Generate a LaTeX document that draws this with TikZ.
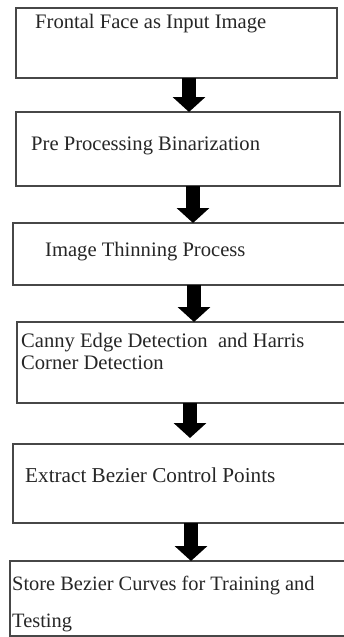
\documentclass[tikz,border=0pt]{standalone}
\usepackage{fontspec}
\setmainfont{Liberation Serif}
\usetikzlibrary{arrows.meta}
\begin{document}
\begin{tikzpicture}[x=1pt,y=-1pt,
        box/.style={draw=black!72, line width=1.2pt, rectangle, inner sep=0pt, outer sep=0pt},
        txt/.style={anchor=base west, inner sep=0pt, text=black!85, align=left, font=\fontsize{20.6}{22}\selectfont},
        fatarrow/.style={line width=14pt, -{Triangle[width=32pt,length=15pt]}}]
        \useasboundingbox (0,0) rectangle (344,637);

        \node[box, minimum width=321pt, minimum height=70pt] (b1) at (176.5,43) {};
        \node[box, minimum width=324pt, minimum height=74pt] (b2) at (178,149) {};
        \node[box, minimum width=332pt, minimum height=62pt] (b3) at (179,254) {};
        \node[box, minimum width=328pt, minimum height=81pt] (b4) at (181,362.5) {};
        \node[box, minimum width=332pt, minimum height=79pt] (b5) at (179,483.5) {};
        \node[box, minimum width=335pt, minimum height=75pt] (b6) at (177.5,598.5) {};

        \node[txt] (t1) at (35,28) {Frontal Face as Input Image};
        \node[txt] (t2) at (31,150) {Pre Processing Binarization};
        \node[txt] (t3) at (45,256) {Image Thinning Process};
        \node[txt] (t4) at (21,369) {Canny Edge Detection~ and Harris\\Corner Detection};
        \node[txt, font=\fontsize{21.2}{22}\selectfont] (t5) at (25,482) {Extract Bezier Control Points};
        \node[txt, font=\fontsize{20.4}{37}\selectfont] (t6) at (12,627) {Store Bezier Curves for Training and\\Testing};

        \path[draw,fatarrow] ([xshift=12.5pt]b1.south) -- ([xshift=11pt]b2.north);
        \path[draw,fatarrow] ([xshift=15pt]b2.south) -- ([xshift=14pt]b3.north);
        \path[draw,fatarrow] ([xshift=15pt]b3.south) -- ([xshift=13pt]b4.north);
        \path[draw,fatarrow,shorten >=6pt] ([xshift=9pt]b4.south) -- ([xshift=11pt]b5.north);
        \path[draw,fatarrow] ([xshift=12pt]b5.south) -- ([xshift=13.5pt]b6.north);
    \end{tikzpicture}
\end{document}
